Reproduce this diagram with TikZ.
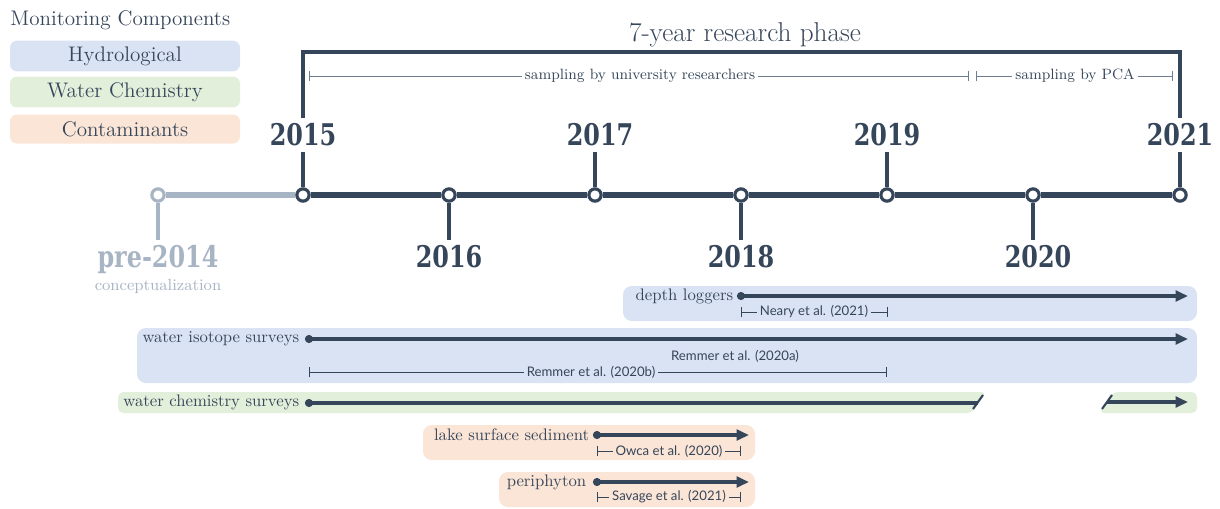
\documentclass[tikz,border=0pt]{standalone}
\usepackage{fontspec}
\usetikzlibrary{arrows.meta}
\newfontfamily\yearfont[FakeStretch=0.8]{DejaVu Serif}
\newfontfamily\citefont{Lato}
\definecolor{slate}{HTML}{36465A}
\definecolor{mist}{HTML}{A7B4C4}
\definecolor{hydro}{HTML}{DAE3F3}
\definecolor{chem}{HTML}{E2EFDA}
\definecolor{contam}{HTML}{FBE5D6}
\tikzset{
  yearlabel/.style={text=slate, font=\yearfont\bfseries\fontsize{17}{17}\selectfont, inner sep=3pt},
  yeardot/.style={circle, draw=slate, fill=white, line width=1.8pt, minimum size=7pt, inner sep=0pt},
  spine/.style={slate, line width=3.6pt},
  yeartick/.style={slate, line width=2.3pt},
  rowlabel/.style={text=slate, font=\fontsize{9.5}{10}\selectfont, inner sep=2pt},
  citelabel/.style={text=slate, font=\citefont\fontsize{7.5}{8}\selectfont, inner sep=1.5pt},
  citeline/.style={slate, line width=0.5pt},
  barstart/.style={{Bar[width=6pt]}-},
  barend/.style={-{Bar[width=6pt]}},
  period/.style={slate, line width=1.9pt, {Circle[length=4.5pt]}-{Stealth[length=7pt,width=6pt,inset=0pt]}},
  legendbox/.style={rounded corners=4pt, minimum width=230*0.02cm, minimum height=29*0.02cm,
    text=slate, font=\fontsize{12}{12}\selectfont},
}
\begin{document}
\begin{tikzpicture}[x=0.02cm, y=-0.02cm]
  \useasboundingbox (0,0) rectangle (1220,508);
  % Legend
  \node[text=slate, font=\fontsize{12}{12}\selectfont, anchor=west, inner sep=0pt] (legend) at (10,20) {Monitoring Components};
  \node[legendbox, fill=hydro] (lhydro) at (125,56) {Hydrological};
  \node[legendbox, fill=chem] (lchem) at (125,92) {Water Chemistry};
  \node[legendbox, fill=contam] (lcontam) at (125,129) {Contaminants};
  % Research phase bracket
  \node[text=slate, font=\fontsize{15.5}{16}\selectfont] (phase) at (745,35) {7-year research phase};
  \coordinate (phasetop) at (745,52);
  \node[citelabel, font=\fontsize{8.5}{9}\selectfont] (uni) at (640,76) {sampling by university researchers};
  \coordinate (unil) at (309,76);
  \coordinate (unir) at (969,76);
  \node[citelabel, font=\fontsize{8.5}{9}\selectfont] (pca) at (1075,76) {sampling by PCA};
  \coordinate (pcal) at (976,76);
  \coordinate (pcar) at (1173,76);
  \draw[citeline, barstart, mist!50!slate] (unil) -- (uni);
  \draw[citeline, barend, mist!50!slate] (uni) -- (unir);
  \draw[citeline, barstart, mist!50!slate] (pcal) -- (pca);
  \draw[citeline, barend, mist!50!slate] (pca) -- (pcar);
  % Timeline
  \node[yeardot, draw=mist] (y2014) at (158,195) {};
  \node[yeardot] (y2015) at (303,195) {};
  \node[yeardot] (y2016) at (449,195) {};
  \node[yeardot] (y2017) at (595,195) {};
  \node[yeardot] (y2018) at (741,195) {};
  \node[yeardot] (y2019) at (887,195) {};
  \node[yeardot] (y2020) at (1033,195) {};
  \node[yeardot] (y2021) at (1180,195) {};
  \draw[spine, mist] (y2014) -- (y2015);
  \draw[spine] (y2015) -- (y2016) -- (y2017) -- (y2018) -- (y2019) -- (y2020) -- (y2021);
  \node[yearlabel] (l2015) at (303,135) {2015};
  \node[yearlabel] (l2016) at (449,257) {2016};
  \node[yearlabel] (l2017) at (600,135) {2017};
  \node[yearlabel] (l2018) at (741,257) {2018};
  \node[yearlabel] (l2019) at (887,135) {2019};
  \node[yearlabel] (l2020) at (1038,257) {2020};
  \node[yearlabel] (l2021) at (1180,135) {2021};
  \node[yearlabel, text=mist] (l2014) at (158,260) {pre-2014};
  \node[text=mist, font=\fontsize{9.2}{10}\selectfont, inner sep=0pt] (concept) at (158,286) {conceptualization};
  \draw[yeartick, mist] (y2014) -- (l2014);
  \draw[yeartick] (y2015) -- (l2015);
  \draw[yeartick] (y2016) -- (l2016);
  \draw[yeartick] (y2017) -- (y2017 |- l2017.south);
  \draw[yeartick] (y2018) -- (l2018);
  \draw[yeartick] (y2019) -- (l2019);
  \draw[yeartick] (y2020) -- (y2020 |- l2020.north);
  \draw[yeartick] (y2021) -- (l2021);
  \draw[yeartick] (l2015) |- (phasetop) -| (l2021);
  % Depth loggers
  \fill[hydro, rounded corners=5pt] (623,286) rectangle (1197,321);
  \node[rowlabel, anchor=east] (depth) at (737,296) {depth loggers};
  \coordinate (depthl) at (737,296);
  \coordinate (depthr) at (1188,296);
  \draw[period] (depthl) -- (depthr);
  \node[citelabel] (neary) at (814,312) {Neary et al. (2021)};
  \coordinate (nearyl) at (741,312);
  \coordinate (nearyr) at (888,312);
  \draw[citeline, barstart] (nearyl) -- (neary);
  \draw[citeline, barend] (neary) -- (nearyr);
  % Water isotope surveys
  \fill[hydro, rounded corners=5pt] (137,328) rectangle (1197,383);
  \node[rowlabel, anchor=east] (iso) at (303,339) {water isotope surveys};
  \coordinate (isol) at (305,339);
  \coordinate (isor) at (1188,339);
  \draw[period] (isol) -- (isor);
  \node[citelabel] (remmera) at (735,356) {Remmer et al. (2020a)};
  \node[citelabel] (remmerb) at (591,372) {Remmer et al. (2020b)};
  \coordinate (remmerl) at (309,372);
  \coordinate (remmerr) at (887,372);
  \draw[citeline, barstart] (remmerl) -- (remmerb);
  \draw[citeline, barend] (remmerb) -- (remmerr);
  % Water chemistry surveys
  \fill[chem, rounded corners=3pt] (118,392) -- (986,392) -- (972,413) -- (118,413) -- cycle;
  \fill[chem, rounded corners=3pt] (1113,392) -- (1197,392) -- (1197,413) -- (1099,413) -- cycle;
  \node[rowlabel, anchor=east] (chem) at (303,402) {water chemistry surveys};
  \coordinate (cheml) at (305,403);
  \coordinate (chembreak) at (978,403);
  \coordinate (chemresume) at (1107,402);
  \coordinate (chemr) at (1188,402);
  \draw[period, {Circle[length=4.5pt]}-] (cheml) -- (chembreak);
  \draw[slate, line width=1.2pt] (973,409) -- (983,395);
  \draw[slate, line width=1.2pt] (1102,409) -- (1112,395);
  \draw[period, {Circle[length=0pt]}-{Stealth[length=7pt,width=6pt,inset=0pt]}] (chemresume) -- (chemr);
  % Lake surface sediment
  \fill[contam, rounded corners=5pt] (423,425) rectangle (755,460);
  \node[rowlabel, anchor=east] (sed) at (593,435) {lake surface sediment};
  \coordinate (sedl) at (593,435);
  \coordinate (sedr) at (749,435);
  \draw[period] (sedl) -- (sedr);
  \node[citelabel] (owca) at (669,451) {Owca et al. (2020)};
  \coordinate (owcal) at (597,451);
  \coordinate (owcar) at (741,451);
  \draw[citeline, barstart] (owcal) -- (owca);
  \draw[citeline, barend] (owca) -- (owcar);
  % Periphyton
  \fill[contam, rounded corners=5pt] (499,472) rectangle (755,507);
  \node[rowlabel, anchor=east] (peri) at (590,482) {periphyton};
  \coordinate (peril) at (593,482);
  \coordinate (perir) at (749,482);
  \draw[period] (peril) -- (perir);
  \node[citelabel] (savage) at (669,497) {Savage et al. (2021)};
  \coordinate (savagel) at (597,497);
  \coordinate (savager) at (741,497);
  \draw[citeline, barstart] (savagel) -- (savage);
  \draw[citeline, barend] (savage) -- (savager);
\end{tikzpicture}
\end{document}
